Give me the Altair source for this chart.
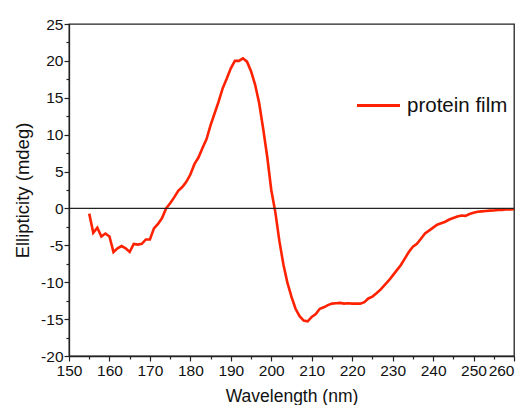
import altair as alt
import pandas as pd

wavelength = list(range(155, 261))
ellipticity = [
    -0.7, -3.3, -2.6, -3.8, -3.4, -3.8, -5.9, -5.4, -5.1, -5.4,
    -5.9, -4.8, -4.9, -4.8, -4.2, -4.2, -2.7, -2.1, -1.3, 0.0,
    0.7, 1.5, 2.4, 2.9, 3.6, 4.6, 6.0, 6.9, 8.2, 9.4,
    11.3, 12.9, 14.5, 16.3, 17.6, 19.0, 20.0, 20.0, 20.35, 19.9,
    18.6, 16.8, 14.3, 10.8, 7.0, 2.5, -0.5, -4.4, -7.6, -10.1,
    -12.0, -13.6, -14.6, -15.2, -15.3, -14.7, -14.3, -13.6, -13.4, -13.1,
    -12.9, -12.85, -12.8, -12.9, -12.85, -12.9, -12.9, -12.9, -12.7, -12.2,
    -11.95, -11.5, -11.0, -10.4, -9.8, -9.1, -8.4, -7.7, -6.8, -5.9,
    -5.2, -4.8, -4.1, -3.4, -3.0, -2.6, -2.2, -2.0, -1.8, -1.5,
    -1.3, -1.1, -0.95, -1.0, -0.75, -0.6, -0.45, -0.4, -0.35, -0.3,
    -0.28, -0.22, -0.2, -0.15, -0.12, -0.1,
]
series_name = "protein film"
x_ticks = list(range(150, 261, 5))
y_ticks = [v * 2.5 for v in range(-8, 11)]
zero_level = [0]

df = pd.DataFrame({
    "wavelength": wavelength,
    "ellipticity": ellipticity,
    "series": [series_name] * len(wavelength),
})

FONT = "Liberation Sans"

x_axis = alt.Axis(
    title="Wavelength (nm)",
    values=x_ticks,
    labelExpr="datum.value % 10 === 0 ? ('' + datum.value) : ''",
    tickSize={"condition": {"test": "datum.value % 10 === 0", "value": 5}, "value": 3},
    labelAlign={"condition": {"test": "datum.value >= 260", "value": "right"}, "value": "center"},
    grid=False,
    labelFont=FONT, labelFontSize=15.5, labelColor="#111", labelPadding=2,
    titleFont=FONT, titleFontSize=17.5, titleFontWeight="normal", titleColor="#111",
    titleBaseline="alphabetic", titleY=45,
    domainColor="#222", domainWidth=1.3, tickColor="#222", tickWidth=1.2,
    labelFlush=False, labelOverlap=False,
)
y_axis = alt.Axis(
    title="Ellipticity (mdeg)",
    values=y_ticks,
    labelExpr="datum.value % 5 === 0 ? ('' + datum.value) : ''",
    tickSize={"condition": {"test": "datum.value % 5 === 0", "value": 5}, "value": 3},
    grid=False,
    labelFont=FONT, labelFontSize=15.5, labelColor="#111", labelPadding=1,
    titleFont=FONT, titleFontSize=18.5, titleFontWeight="normal", titleColor="#111",
    titleBaseline="alphabetic", titleX=-41,
    domainColor="#222", domainWidth=1.3, tickColor="#222", tickWidth=1.2,
    labelFlush=False, labelOverlap=False,
)

x_scale = alt.Scale(domain=[150, 260], nice=False, zero=False)
y_scale = alt.Scale(domain=[-20, 25], nice=False, zero=False)

line = alt.Chart(df).mark_line(strokeWidth=2.6).encode(
    x=alt.X("wavelength:Q", scale=x_scale, axis=x_axis),
    y=alt.Y("ellipticity:Q", scale=y_scale, axis=y_axis),
    color=alt.Color(
        "series:N",
        scale=alt.Scale(domain=[series_name], range=["#ff2200"]),
        legend=alt.Legend(
            title=None, orient="none", legendX=286, legendY=58,
            symbolType="stroke", symbolSize=1850, symbolStrokeWidth=3,
            labelFont=FONT, labelFontSize=20.5, labelColor="#111", labelOffset=5,
            padding=0,
        ),
    ),
)

zero_rule = alt.Chart(pd.DataFrame({"ellipticity": zero_level})).mark_rule(
    color="#222", strokeWidth=1.3
).encode(y=alt.Y("ellipticity:Q", scale=y_scale, axis=y_axis))

chart = alt.layer(line, zero_rule).properties(
    width=445, height=332,
    autosize=alt.AutoSizeParams(type="none"),
    padding={"left": 61, "top": 16, "right": 6, "bottom": 49},
).configure_view(stroke="#222", strokeWidth=1.3)

chart.save("out.html", embed_options={"renderer": "svg", "actions": False})
